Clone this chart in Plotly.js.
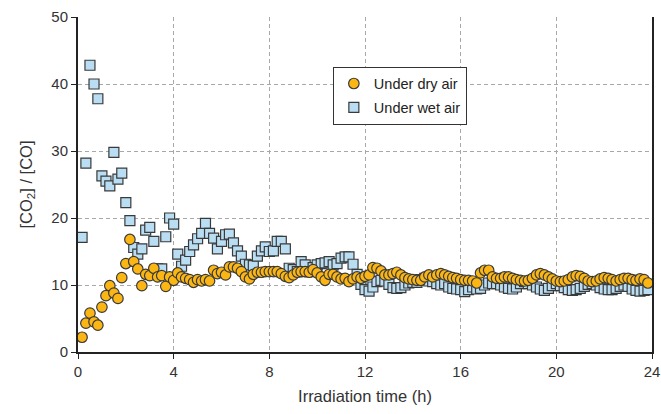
<!DOCTYPE html>
<html>
<head>
<meta charset="utf-8">
<script src="https://cdn.plot.ly/plotly-3.0.1.min.js"></script>
<style>
  html, body { margin: 0; padding: 0; background: #ffffff; }
  #chart { width: 661px; height: 414px; }
</style>
</head>
<body>
<div id="chart"></div>
<script>
// Sampling times (h), one reading every 10 minutes
const timeH = [
  0.17, 0.33, 0.5, 0.67, 0.83, 1,
  1.17, 1.33, 1.5, 1.67, 1.83, 2,
  2.17, 2.33, 2.5, 2.67, 2.83, 3,
  3.17, 3.33, 3.5, 3.67, 3.83, 4,
  4.17, 4.33, 4.5, 4.67, 4.83, 5,
  5.17, 5.33, 5.5, 5.67, 5.83, 6,
  6.17, 6.33, 6.5, 6.67, 6.83, 7,
  7.17, 7.33, 7.5, 7.67, 7.83, 8,
  8.17, 8.33, 8.5, 8.67, 8.83, 9,
  9.17, 9.33, 9.5, 9.67, 9.83, 10,
  10.17, 10.33, 10.5, 10.67, 10.83, 11,
  11.17, 11.33, 11.5, 11.67, 11.83, 12,
  12.17, 12.33, 12.5, 12.67, 12.83, 13,
  13.17, 13.33, 13.5, 13.67, 13.83, 14,
  14.17, 14.33, 14.5, 14.67, 14.83, 15,
  15.17, 15.33, 15.5, 15.67, 15.83, 16,
  16.17, 16.33, 16.5, 16.67, 16.83, 17,
  17.17, 17.33, 17.5, 17.67, 17.83, 18,
  18.17, 18.33, 18.5, 18.67, 18.83, 19,
  19.17, 19.33, 19.5, 19.67, 19.83, 20,
  20.17, 20.33, 20.5, 20.67, 20.83, 21,
  21.17, 21.33, 21.5, 21.67, 21.83, 22,
  22.17, 22.33, 22.5, 22.67, 22.83, 23,
  23.17, 23.33, 23.5, 23.67, 23.83
];

// [CO2]/[CO] ratio under dry air
const ratioDry = [
  2.2, 4.3, 5.8, 4.5, 4.0, 6.7,
  8.4, 9.9, 8.8, 8.0, 11.1, 13.2,
  16.8, 13.5, 12.4, 9.9, 11.6, 11.4,
  12.5, 11.2, 11.4, 9.8, 11.2, 10.7,
  11.8, 11.2, 11.0, 10.8, 10.4, 10.8,
  10.6, 10.8, 10.6, 12.2, 11.7, 11.9,
  11.5, 12.7, 12.7, 12.5, 12.0, 11.2,
  10.9, 11.6, 11.9, 11.9, 12.0, 12.0,
  12.0, 12.0, 11.7, 11.3, 11.1, 11.5,
  11.9, 12.0, 12.0, 11.9, 12.3, 11.8,
  11.2, 10.7, 11.6, 11.6, 11.2, 10.9,
  11.0, 10.5, 10.9, 11.2, 11.0, 11.3,
  11.5, 12.6, 12.5, 12.1, 11.5, 11.5,
  11.7, 11.9, 11.5, 11.1, 10.9, 10.8,
  10.7, 10.7, 11.2, 11.5, 11.2, 11.5,
  11.7, 11.5, 11.3, 11.1, 11.0, 10.8,
  10.7, 10.7, 10.6, 10.3, 11.8, 12.2,
  12.2, 11.2, 11.0, 11.0, 11.2, 11.2,
  11.0, 10.8, 10.7, 10.6, 10.7, 11.0,
  11.5, 11.7, 11.5, 11.2, 10.9, 10.6,
  10.5, 10.6, 10.8, 11.2, 11.4, 11.3,
  11.0, 10.6, 10.5, 10.6, 10.9, 11.1,
  11.0, 10.8, 10.6, 10.8, 11.0, 11.0,
  10.8, 10.7, 10.9, 10.8, 10.3
];

// [CO2]/[CO] ratio under wet air
const ratioWet = [
  17.1, 28.2, 42.8, 40.0, 37.8, 26.3,
  25.5, 24.8, 29.8, 25.8, 26.7, 22.3,
  19.6, 15.6, 14.6, 15.4, 18.2, 18.6,
  16.5, 12.4, 12.4, 17.2, 20.0, 19.1,
  14.6, 12.8, 13.7, 15.0, 16.0, 16.9,
  17.7, 19.2, 17.7, 17.0, 15.4, 16.5,
  17.5, 17.6, 16.3, 15.1, 14.3, 13.1,
  13.0, 12.9, 14.3, 15.1, 15.7, 15.0,
  15.1, 16.5, 16.5, 15.4, 12.5, 12.3,
  12.0, 13.5, 13.0, 12.0, 12.6, 13.0,
  13.2, 13.3, 13.5, 13.0, 13.2, 14.0,
  14.2, 14.2, 13.1, 11.6, 10.1, 9.3,
  9.1, 9.7, 10.5, 10.7, 10.6, 10.1,
  9.6, 9.5, 9.6, 10.0, 10.3, 10.4,
  10.4, 10.8, 11.0, 10.6, 10.5, 10.2,
  10.0, 10.2, 9.7, 9.5, 9.4, 9.3,
  9.0, 9.3, 9.7, 9.4, 9.5, 10.0,
  10.3, 10.2, 10.2, 10.0, 9.7, 9.5,
  9.4, 9.7, 10.2, 10.5, 10.2, 10.0,
  9.7, 9.4, 9.2, 9.5, 9.9, 10.2,
  9.9, 9.6, 9.3, 9.2, 9.3, 9.5,
  9.8, 10.1, 10.2, 10.0, 9.6, 9.4,
  9.3, 9.3, 9.5, 9.8, 10.0, 9.8,
  9.4, 9.2, 9.1, 9.2, 9.3
];

const seriesNames = ['Under dry air', 'Under wet air'];
const xTicks = [0, 4, 8, 12, 16, 20, 24];
const yTicks = [0, 10, 20, 30, 40, 50];

const FONT = 'Liberation Sans, Arial, Helvetica, sans-serif';

const wetTrace = {
  x: timeH,
  y: ratioWet,
  name: seriesNames[1],
  type: 'scatter',
  mode: 'markers',
  legendrank: 2,
  legendgroup: 'wet',
  marker: {
    symbol: 'square',
    size: 10,
    color: '#b9ddf2',
    line: { color: '#3a3a3a', width: 1.2 }
  },
  cliponaxis: false
};

const dryTrace = {
  x: timeH,
  y: ratioDry,
  name: seriesNames[0],
  type: 'scatter',
  mode: 'markers',
  legendrank: 1,
  legendgroup: 'dry',
  marker: {
    symbol: 'circle',
    size: 10.5,
    color: '#fbb614',
    line: { color: '#3a3a3a', width: 1.2 }
  },
  cliponaxis: false
};

const layout = {
  width: 661,
  height: 414,
  margin: { l: 78, r: 9, t: 17, b: 62 },
  paper_bgcolor: '#ffffff',
  plot_bgcolor: '#ffffff',
  font: { family: FONT, size: 15, color: '#333333' },
  showlegend: true,
  legend: {
    x: 0.444, y: 0.852,
    xanchor: 'left', yanchor: 'top',
    bgcolor: '#ffffff',
    bordercolor: '#333333',
    borderwidth: 1,
    tracegroupgap: 2,
    font: { family: FONT, size: 14.5, color: '#222222' }
  },
  xaxis: {
    range: [0, 24],
    tickvals: xTicks,
    ticktext: xTicks.map(String),
    ticks: 'outside',
    ticklen: 5,
    tickwidth: 1,
    tickcolor: '#222222',
    showline: true,
    linecolor: '#222222',
    linewidth: 2,
    mirror: false,
    zeroline: false,
    showgrid: true,
    gridcolor: '#a8a8a8',
    gridwidth: 1,
    griddash: '4px,3px',
    tickfont: { family: FONT, size: 15, color: '#333333' },
    title: {
      text: 'Irradiation time (h)',
      font: { family: FONT, size: 16.5, color: '#333333' },
      standoff: 11
    }
  },
  yaxis: {
    range: [0, 50],
    tickvals: yTicks,
    ticktext: yTicks.map(String),
    ticks: 'outside',
    ticklen: 5,
    tickwidth: 1,
    tickcolor: '#222222',
    showline: true,
    linecolor: '#222222',
    linewidth: 2,
    mirror: true,
    zeroline: false,
    showgrid: true,
    gridcolor: '#a8a8a8',
    gridwidth: 1,
    griddash: '4px,3px',
    tickfont: { family: FONT, size: 15, color: '#333333' },
    title: {
      text: '[CO<sub>2</sub>] / [CO]',
      font: { family: FONT, size: 16.5, color: '#333333' },
      standoff: 15
    }
  }
};

Plotly.newPlot('chart', [wetTrace, dryTrace], layout, { displayModeBar: false, staticPlot: true });
</script>
</body>
</html>
